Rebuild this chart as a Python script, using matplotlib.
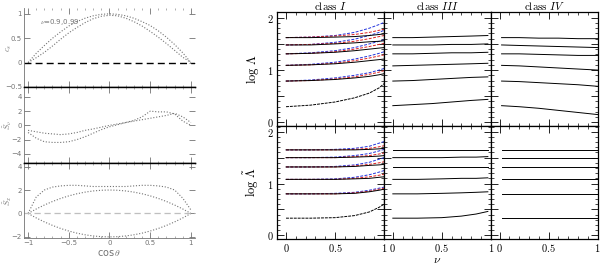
import matplotlib
matplotlib.use("Agg")
import matplotlib.pyplot as plt
from matplotlib.ticker import MultipleLocator, FixedLocator

plt.rcParams['mathtext.fontset'] = 'cm'

# ---------------- left column: angular profiles vs cos(theta)
cos_theta = [-1.0, -0.9, -0.8, -0.7, -0.6, -0.5, -0.4, -0.3, -0.2, -0.1, 0.0,
             0.1, 0.2, 0.3, 0.4, 0.5, 0.6, 0.7, 0.8, 0.9, 1.0]
p1_outer = [0.0, 0.19, 0.35, 0.50, 0.63, 0.75, 0.84, 0.91, 0.96, 0.99, 1.0,
            0.99, 0.96, 0.91, 0.84, 0.76, 0.65, 0.52, 0.37, 0.20, 0.0]
p1_inner = [0.0, 0.10, 0.21, 0.34, 0.48, 0.61, 0.72, 0.82, 0.90, 0.95, 0.97,
            0.96, 0.91, 0.84, 0.75, 0.64, 0.52, 0.39, 0.25, 0.11, 0.0]
p2_a = [-0.7, -0.9, -1.1, -1.2, -1.3, -1.2, -1.0, -0.7, -0.5, -0.25, 0.0,
        0.2, 0.4, 0.6, 0.8, 1.0, 1.2, 1.4, 1.7, 1.2, 0.4]
p2_b = [-1.0, -1.8, -2.3, -2.4, -2.4, -2.3, -2.0, -1.6, -1.1, -0.6, -0.2,
        0.1, 0.4, 0.7, 1.2, 2.0, 1.9, 1.9, 1.6, 0.6, 0.0]
p3_outer = [0.0, 1.4, 2.0, 2.25, 2.35, 2.4, 2.4, 2.35, 2.3, 2.3, 2.3,
            2.3, 2.3, 2.35, 2.4, 2.4, 2.35, 2.25, 2.0, 1.3, 0.3]
p3_mid = [0.0, 0.38, 0.72, 1.02, 1.28, 1.50, 1.68, 1.82, 1.92, 1.98, 2.0,
          1.98, 1.92, 1.82, 1.68, 1.50, 1.28, 1.02, 0.72, 0.38, 0.0]
p3_low = [0.0, -0.38, -0.72, -1.02, -1.28, -1.50, -1.68, -1.82, -1.92, -1.98, -2.0,
          -1.98, -1.92, -1.82, -1.68, -1.50, -1.28, -1.02, -0.72, -0.38, 0.0]
p1_ticks = [-0.5, 0, 0.5, 1]
p1_ticklabels = ['\u22120.5', '0', '0.5', '1']
p2_ticks = [-4, -2, 0, 2, 4]
p3_ticks = [-2, 0, 2, 4]
left_xticks = [-1, -0.5, 0, 0.5, 1]
left_xticklabels = ['\u22121', '\u22120.5', '0', '0.5', '1']

# ---------------- right block: log Lambda vs nu
nu_I = [0.0, 0.25, 0.5, 0.7, 0.85, 0.95, 1.0]
top_I_low = [0.30, 0.33, 0.39, 0.47, 0.56, 0.66, 0.74]
top_I_black = [[0.79, 0.80, 0.82, 0.85, 0.88, 0.91, 0.93],
               [1.09, 1.10, 1.12, 1.15, 1.18, 1.20, 1.21],
               [1.31, 1.32, 1.34, 1.37, 1.40, 1.42, 1.43],
               [1.48, 1.48, 1.50, 1.52, 1.54, 1.55, 1.56],
               [1.62, 1.62, 1.63, 1.64, 1.66, 1.68, 1.69]]
top_I_red = [[0.79, 0.80, 0.83, 0.87, 0.92, 0.96, 0.99],
             [1.09, 1.10, 1.13, 1.18, 1.23, 1.27, 1.29],
             [1.31, 1.32, 1.35, 1.40, 1.45, 1.49, 1.51],
             [1.48, 1.49, 1.51, 1.55, 1.60, 1.64, 1.66],
             [1.62, 1.63, 1.65, 1.68, 1.72, 1.76, 1.78]]
top_I_blue = [[0.79, 0.81, 0.85, 0.90, 0.95, 1.00, 1.03],
              [1.09, 1.11, 1.15, 1.21, 1.27, 1.32, 1.35],
              [1.31, 1.33, 1.37, 1.43, 1.50, 1.55, 1.58],
              [1.48, 1.49, 1.53, 1.59, 1.66, 1.72, 1.76],
              [1.62, 1.63, 1.66, 1.72, 1.80, 1.87, 1.91]]

nu_III = [0.0, 0.2, 0.4, 0.6, 0.8, 0.97]
top_III = [[1.62, 1.62, 1.63, 1.64, 1.65, 1.66],
           [1.48, 1.48, 1.48, 1.49, 1.49, 1.50],
           [1.31, 1.31, 1.32, 1.33, 1.33, 1.34],
           [1.08, 1.09, 1.10, 1.11, 1.12, 1.13],
           [0.79, 0.80, 0.82, 0.84, 0.86, 0.87],
           [0.32, 0.34, 0.36, 0.39, 0.42, 0.44]]

nu_IV = [0.02, 0.2, 0.4, 0.6, 0.8, 1.0]
top_IV = [[1.62, 1.62, 1.61, 1.61, 1.60, 1.60],
          [1.48, 1.47, 1.46, 1.45, 1.44, 1.43],
          [1.31, 1.31, 1.30, 1.29, 1.28, 1.28],
          [1.09, 1.08, 1.06, 1.04, 1.02, 1.00],
          [0.79, 0.78, 0.76, 0.74, 0.72, 0.69],
          [0.32, 0.30, 0.27, 0.23, 0.19, 0.15]]

bot_I_low = [0.33, 0.33, 0.34, 0.38, 0.45, 0.54, 0.60]
bot_I_black = [[0.80, 0.80, 0.80, 0.81, 0.84, 0.87, 0.89],
               [1.08, 1.08, 1.08, 1.09, 1.10, 1.12, 1.13],
               [1.32, 1.32, 1.32, 1.33, 1.35, 1.36, 1.37],
               [1.50, 1.50, 1.50, 1.51, 1.52, 1.53, 1.54],
               [1.65, 1.65, 1.65, 1.65, 1.66, 1.67, 1.68]]
bot_I_red = [[0.80, 0.80, 0.80, 0.82, 0.85, 0.89, 0.91],
             [1.08, 1.08, 1.08, 1.10, 1.13, 1.16, 1.18],
             [1.32, 1.32, 1.32, 1.34, 1.37, 1.40, 1.42],
             [1.50, 1.50, 1.50, 1.52, 1.54, 1.57, 1.59],
             [1.65, 1.65, 1.65, 1.66, 1.68, 1.71, 1.73]]
bot_I_blue = [[0.80, 0.80, 0.81, 0.83, 0.87, 0.91, 0.93],
              [1.08, 1.08, 1.09, 1.12, 1.17, 1.22, 1.25],
              [1.32, 1.32, 1.33, 1.36, 1.41, 1.47, 1.50],
              [1.50, 1.50, 1.51, 1.54, 1.58, 1.63, 1.66],
              [1.65, 1.65, 1.66, 1.68, 1.72, 1.78, 1.81]]

nu_III_b = [0.0, 0.25, 0.5, 0.7, 0.85, 0.97]
bot_III = [[1.65, 1.65, 1.65, 1.65, 1.65, 1.65],
           [1.50, 1.50, 1.50, 1.51, 1.51, 1.52],
           [1.32, 1.32, 1.32, 1.32, 1.32, 1.32],
           [1.08, 1.08, 1.09, 1.10, 1.10, 1.11],
           [0.80, 0.80, 0.81, 0.82, 0.83, 0.84],
           [0.33, 0.33, 0.34, 0.37, 0.41, 0.46]]
nu_IV_b = [0.02, 1.0]
bot_IV = [[1.65, 1.65], [1.50, 1.50], [1.32, 1.32],
          [1.08, 1.08], [0.80, 0.80], [0.33, 0.33]]

class_titles = [r'$\mathrm{class}\ I$', r'$\mathrm{class}\ III$', r'$\mathrm{class}\ IV$']

fig = plt.figure(figsize=(6.0, 2.66), dpi=100)

# ---------------- left column
grey = '0.45'
dot = (0, (1, 1.6))
L, W = 0.04, 0.285
left_axes = [fig.add_axes([L, 0.673, W, 0.297]),
             fig.add_axes([L, 0.387, W, 0.286]),
             fig.add_axes([L, 0.105, W, 0.282])]
a1, a2, a3 = left_axes

a1.plot(cos_theta, p1_outer, color=grey, ls=dot, lw=0.8)
a1.plot(cos_theta, p1_inner, color=grey, ls=dot, lw=0.8)
a1.axhline(0, color='k', lw=1.0, dashes=(5, 3))
a1.text(-0.85, 0.8, r'$\nu$=0.9,0.99', fontsize=5, color=grey)
a1.set_ylim(-0.5, 1.12)
a1.yaxis.set_major_locator(FixedLocator(p1_ticks))
a1.set_yticklabels(p1_ticklabels)
a1.set_ylabel(r'$c_s$', fontsize=6, color=grey)

a2.plot(cos_theta, p2_a, color=grey, ls=dot, lw=0.8)
a2.plot(cos_theta, p2_b, color=grey, ls=dot, lw=0.8)
a2.set_ylim(-5.3, 5.4)
a2.yaxis.set_major_locator(FixedLocator(p2_ticks))
a2.set_ylabel(r'$\tilde{S}_\nu$', fontsize=6, color=grey)

a3.plot(cos_theta, p3_outer, color=grey, ls=dot, lw=0.8)
a3.plot(cos_theta, p3_mid, color=grey, ls=dot, lw=0.8)
a3.plot(cos_theta, p3_low, color=grey, ls=dot, lw=0.8)
a3.axhline(0, color='0.75', lw=0.9, dashes=(5, 3))
a3.set_ylim(-2.1, 4.3)
a3.yaxis.set_major_locator(FixedLocator(p3_ticks))
a3.set_ylabel(r'$\tilde{S}_x$', fontsize=6, color=grey)
a3.set_xlabel(r'cos$\,\theta$', fontsize=7, color=grey, labelpad=1)

for i, ax in enumerate(left_axes):
    ax.set_xlim(-1.05, 1.05)
    ax.xaxis.set_major_locator(FixedLocator(left_xticks))
    ax.xaxis.set_minor_locator(MultipleLocator(0.1))
    ax.tick_params(which='both', direction='in', top=True, right=True,
                   labelsize=5, labelcolor=grey, color=grey, pad=1.5)
    ax.tick_params(which='major', length=4, width=0.6)
    ax.tick_params(which='minor', length=1.5, width=0.4)
    if i < 2:
        ax.tick_params(labelbottom=False)
    else:
        ax.set_xticklabels(left_xticklabels)
    ax.yaxis.set_label_coords(-0.06, 0.5)
    ax.spines['right'].set_visible(False)
    ax.spines['left'].set_color(grey)
    ax.spines['left'].set_linewidth(0.6)
    for s in ('top', 'bottom'):
        ax.spines[s].set_color('k')
        ax.spines[s].set_linewidth(1.0)
a1.spines['top'].set_visible(False)
a3.spines['bottom'].set_color(grey)
a3.spines['bottom'].set_linewidth(0.6)

# ---------------- right block
X0, CW = 0.462, 0.178
rows = [(0.526, 0.429), (0.102, 0.424)]
grid = [[fig.add_axes([X0 + c * CW, rows[r][0], CW, rows[r][1]]) for c in range(3)]
        for r in range(2)]

def draw_class_I(ax, low, blacks, reds, blues):
    ax.plot(nu_I, low, color='k', lw=0.7, dashes=(3, 1))
    for yb, yr, yl in zip(blacks, reds, blues):
        ax.plot(nu_I, yl, color='#2233dd', lw=0.7, dashes=(3, 1.5))
        ax.plot(nu_I, yr, color='#dd2222', lw=0.7, dashes=(3, 1.5))
        ax.plot(nu_I, yb, color='k', lw=0.7)

draw_class_I(grid[0][0], top_I_low, top_I_black, top_I_red, top_I_blue)
draw_class_I(grid[1][0], bot_I_low, bot_I_black, bot_I_red, bot_I_blue)
for y in top_III:
    grid[0][1].plot(nu_III, y, color='k', lw=0.7)
for y in top_IV:
    grid[0][2].plot(nu_IV, y, color='k', lw=0.7)
for y in bot_III:
    grid[1][1].plot(nu_III_b, y, color='k', lw=0.7)
for y in bot_IV:
    grid[1][2].plot(nu_IV_b, y, color='k', lw=0.7)

for r in range(2):
    for c in range(3):
        ax = grid[r][c]
        ax.set_xlim(-0.09, 1.0)
        ax.set_ylim(-0.07, 2.11)
        ax.xaxis.set_major_locator(FixedLocator([0, 0.5, 1]))
        ax.xaxis.set_minor_locator(MultipleLocator(0.1))
        ax.yaxis.set_major_locator(FixedLocator([0, 0.5, 1, 1.5, 2]))
        ax.yaxis.set_minor_locator(MultipleLocator(0.1))
        ax.tick_params(which='both', direction='in', top=True, right=True,
                       labelsize=7.5, pad=2.5)
        ax.tick_params(which='major', length=5, width=0.6)
        ax.tick_params(which='minor', length=2.5, width=0.5)
        for s in ax.spines.values():
            s.set_linewidth(0.9)
        if r == 1:
            ax.set_xticklabels([r'$0$', r'$0.5$', r'$1$'])
        else:
            ax.tick_params(labelbottom=False)
            ax.set_title(class_titles[c], fontsize=8, pad=1)
        if c == 0:
            ax.set_yticklabels([r'$0$', '', r'$1$', '', r'$2$'])
        else:
            ax.tick_params(labelleft=False)

grid[0][0].set_ylabel(r'$\log\,\Lambda$', fontsize=9, labelpad=4)
grid[1][0].set_ylabel(r'$\log\,\tilde{\Lambda}$', fontsize=9, labelpad=4)
grid[1][1].set_xlabel(r'$\nu$', fontsize=8.5, labelpad=-1)

fig.savefig('out.png', dpi=100)
